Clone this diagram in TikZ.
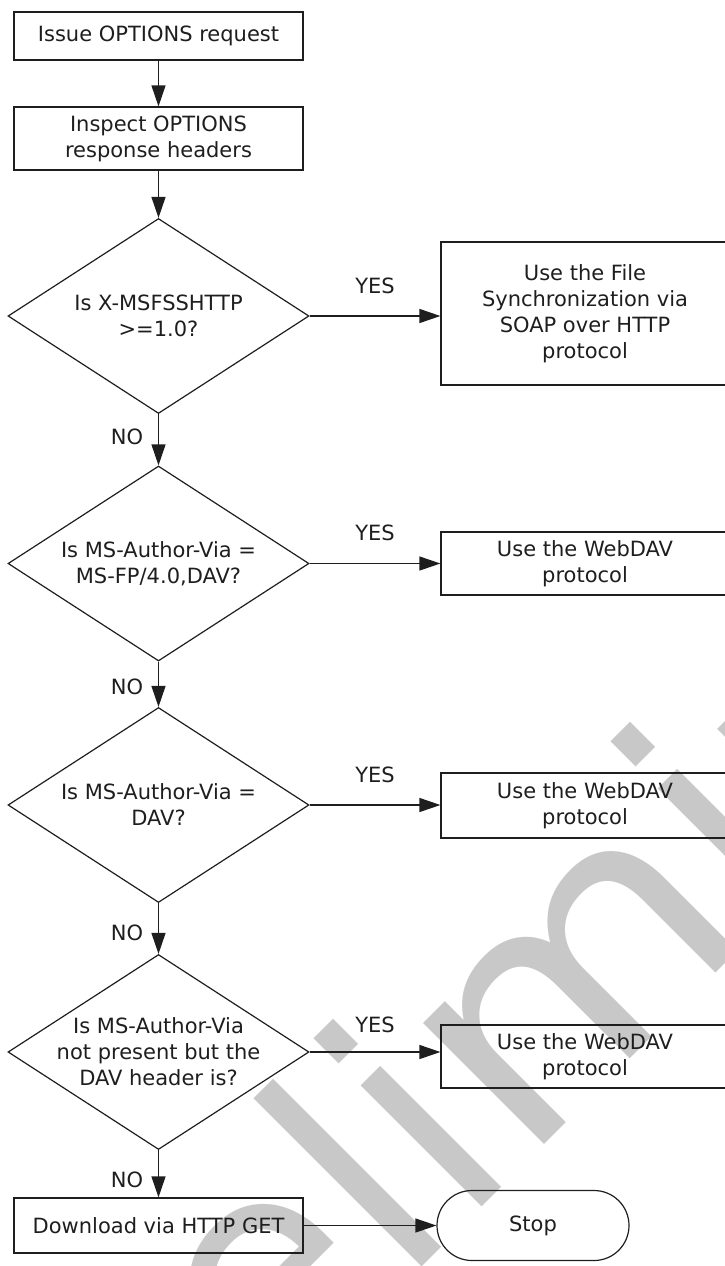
\documentclass[tikz,border=0pt]{standalone}
\usepackage{fontspec}
\setmainfont{DejaVu Sans}
\usetikzlibrary{shapes.geometric,shapes.misc,arrows.meta}
\definecolor{wm}{RGB}{200,200,200}
\definecolor{ink}{RGB}{30,30,30}
\begin{document}
\begin{tikzpicture}[x=1pt,y=1pt,
  box/.style={draw=ink, line width=1.2pt, inner sep=0pt, align=center, text=ink,
    font=\fontsize{21}{26}\selectfont},
  dia/.style={draw=ink, line width=1.2pt, diamond, inner sep=0pt,
    minimum width=301pt, minimum height=195pt},
  txt/.style={inner sep=0pt, align=center, text=ink, font=\fontsize{21}{26}\selectfont},
  lbl/.style={inner sep=0pt, text=ink, font=\fontsize{21}{26}\selectfont},
  arr/.style={draw=ink, line width=1.2pt, -{Triangle[length=21pt,width=14pt]}},
  stopbox/.style={draw=ink, line width=1.2pt, rounded rectangle, inner sep=0pt,
    minimum width=192pt, minimum height=70pt, text=ink, font=\fontsize{21}{26}\selectfont},
  wmtxt/.style={transform shape, anchor=base west, inner sep=0pt, outer sep=0pt, text=wm,
    font=\fontsize{313}{380}\selectfont}]
\useasboundingbox (0,0) rectangle (725,-1266);
\clip (0,0) rectangle (725,-1266);
% watermark "Preliminary"
\begin{scope}[shift={(492,-1197)}, rotate=45]
\node[wmtxt] (wm1) at (-637.3,0) {P};
\node[wmtxt, xscale=1.039] (wm2) at (-448.8,0) {r};
\node[wmtxt, xscale=0.969] (wm3) at (-315.2,0) {e};
\node[wmtxt, xscale=0.986] (wm4) at (-128.6,0) {l};
\node[wmtxt, xscale=0.986] (wm5) at (-42.9,0) {i};
\node[wmtxt, xscale=1.094] (wm6) at (42.9,0) {m};
\node[wmtxt, xscale=0.986] (wm7) at (376.5,0) {i};
\node[wmtxt] (wm8) at (462.3,0) {n};
\node[wmtxt, xscale=0.979] (wm9) at (660.4,0) {a};
\node[wmtxt, xscale=1.039] (wm10) at (848.2,0) {r};
\node[wmtxt] (wm11) at (981.9,0) {y};
\end{scope}
% left column
\node[box, minimum width=289pt, minimum height=48pt] (b1) at (158.5,-36) {Issue OPTIONS request};
\node[box, minimum width=289pt, minimum height=63pt] (b2) at (158.5,-138.5) {Inspect OPTIONS\\response headers};
\node[dia] (d1) at (158.5,-316) {};
\node[txt] (t1) at (d1.center) {Is X-MSFSSHTTP\\>=1.0?};
\node[dia] (d2) at (158.5,-563.5) {};
\node[txt] (t2) at (d2.center) {Is MS-Author-Via =\\MS-FP/4.0,DAV?};
\node[dia] (d3) at (158.5,-805) {};
\node[txt] (t3) at (d3.center) {Is MS-Author-Via =\\DAV?};
\node[dia] (d4) at (158.5,-1052) {};
\node[txt] (t4) at (d4.center) {Is MS-Author-Via\\not present but the\\DAV header is?};
\node[box, minimum width=289pt, minimum height=55pt] (dl) at (158.5,-1225.5) {Download via HTTP GET};
% right column
\node[box, minimum width=288pt, minimum height=143pt] (y1) at (585,-313.5) {Use the File\\Synchronization via\\SOAP over HTTP\\protocol};
\node[box, minimum width=288pt, minimum height=63pt] (y2) at (585,-563.5) {Use the WebDAV\\protocol};
\node[box, minimum width=288pt, minimum height=65pt] (y3) at (585,-805.5) {Use the WebDAV\\protocol};
\node[box, minimum width=288pt, minimum height=63pt] (y4) at (585,-1056.5) {Use the WebDAV\\protocol};
\node[stopbox] (stop) at (533,-1225.5) {Stop};
% connectors
\draw[arr] (b1) -- (b2);
\draw[arr] (b2) -- (d1.north);
\draw[arr] (d1.south) -- (d2.north);
\draw[arr] (d2.south) -- (d3.north);
\draw[arr] (d3.south) -- (d4.north);
\draw[arr] (d4.south) -- (dl.north);
\draw[arr] (d1.east) -- (d1.east -| y1.west);
\draw[arr] (d2.east) -- (d2.east -| y2.west);
\draw[arr] (d3.east) -- (d3.east -| y3.west);
\draw[arr] (d4.east) -- (d4.east -| y4.west);
\draw[arr] (dl.east) -- (stop.west);
% labels
\node[lbl] (yes1) at (375,-286) {YES};
\node[lbl] (yes2) at (375,-533) {YES};
\node[lbl] (yes3) at (375,-775) {YES};
\node[lbl] (yes4) at (375,-1025) {YES};
\node[lbl] (no1) at (127,-437) {NO};
\node[lbl] (no2) at (127,-687) {NO};
\node[lbl] (no3) at (127,-933) {NO};
\node[lbl] (no4) at (127,-1180) {NO};
\end{tikzpicture}
\end{document}
